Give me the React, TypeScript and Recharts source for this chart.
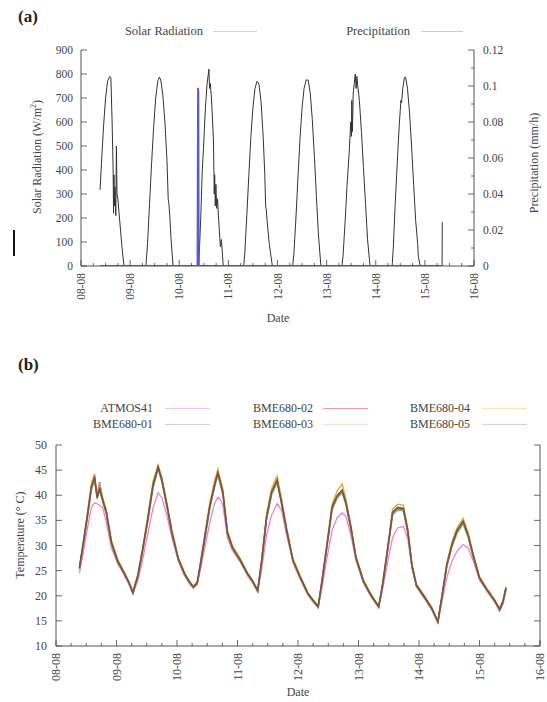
import React from "react";
import { LineChart, Line, XAxis, YAxis } from "recharts";

// ---- tick labels ----
const dateLabels = ["08-08", "09-08", "10-08", "11-08", "12-08", "13-08", "14-08", "15-08", "16-08"];
const hourTicks = [0, 6, 12, 18, 24, 30, 36, 42, 48, 54, 60, 66, 72, 78, 84, 90, 96, 102, 108, 114, 120, 126, 132, 138, 144, 150, 156, 162, 168, 174, 180, 186, 192];
const solarTicks = [0, 100, 200, 300, 400, 500, 600, 700, 800, 900];
const precipTicks = [0, 0.01, 0.02, 0.03, 0.04, 0.05, 0.06, 0.07, 0.08, 0.09, 0.1, 0.11, 0.12];
const tempTicks = [10, 15, 20, 25, 30, 35, 40, 45, 50];

// ---- (a) solar radiation, hours since 08-08 00:00 ----
const solarT = [
  9.3, 10, 11, 12, 13, 14, 14.6, 15.2, 15.7, 15.9, 16.1, 16.3, 16.6, 17, 17.3, 17.6, 18, 19, 20, 21,
  31.7, 32.5, 33.5, 34.5, 35.5, 36.5, 37.5, 38.3, 39, 40, 41, 42, 42.6, 42.9, 43.3, 44, 45,
  57.4, 57.8, 58.5, 59.2, 60, 60.8, 61.6, 62.2, 62.5, 62.8, 63.2, 63.7, 64.2, 64.7, 65.1, 65.3, 65.6, 65.9, 66.3, 66.7, 67.2, 68.1, 68.6, 69.5,
  79.5, 80, 81, 82, 83, 84, 85, 86, 86.5, 87, 88, 89, 89.8, 90.2, 90.5, 91, 92, 93.5,
  103.4, 104, 105, 106, 107, 108, 109, 110, 111, 112, 113, 114, 115, 116, 117.2,
  127.5, 128, 129, 130, 131, 131.8, 132.1, 132.3, 132.6, 133, 133.5, 134, 134.4, 134.8, 135.2, 136, 137, 138, 139, 140, 141.2,
  152, 152.6, 153.5, 154.5, 155.5, 156.3, 156.6, 157.2, 158, 158.6, 159.5, 160.5, 161.5, 162.5, 163.5, 164.5, 164.8, 165.7,
  176.4, 176.5,
];
const solarV = [
  317, 430, 580, 700, 770, 790, 785, 600, 400, 220, 380, 250, 330, 210, 500, 300, 280, 180, 80, 0,
  0, 90, 260, 430, 580, 700, 770, 787, 775, 710, 600, 440, 280, 262, 220, 110, 0,
  0, 54, 200, 387, 520, 662, 760, 800, 820, 740, 760, 700, 620, 525, 300, 380, 250, 340, 240, 280, 200, 80, 110, 0,
  0, 50, 210, 380, 540, 660, 740, 770, 765, 755, 680, 540, 380, 250, 235, 180, 90, 0,
  0, 50, 200, 370, 530, 660, 740, 775, 775, 720, 610, 460, 290, 130, 0,
  0, 40, 180, 340, 470, 600, 540, 690, 560, 720, 760, 800, 740, 790, 750, 690, 560, 410, 260, 110, 0,
  0, 80, 260, 430, 590, 690, 680, 740, 785, 787, 740, 640, 500, 340, 190, 90, 40, 0,
  0, 183,
];
const precipT = [9.3, 56.9, 57.0, 57.15, 57.35, 57.5, 57.6, 176.5];
const precipV = [0, 0, 0.04, 0.099, 0.097, 0.02, 0, 0];

// ---- (b) temperature, hours since 08-08 00:00 ----
const tempT = [
  9.3, 11, 12.5, 14, 15.3, 16.3, 17.3, 18.5, 20, 22, 24.5, 27, 29,
  30.5, 32.5, 34.5, 36.5, 38.5, 40.5, 42, 44, 46, 48.5, 51, 53,
  54.5, 56, 57, 59, 61, 63, 64.2, 65.2, 66.2, 68, 70, 73, 76, 78,
  80, 81.5, 83.5, 85.5, 87.7, 89.5, 91.5, 94, 97, 100, 102,
  104, 105.5, 107.5, 109.5, 111.5, 113.5, 115, 117, 119, 122, 125,
  128, 129.5, 131.5, 133.5, 135.5, 137.8, 139.5, 141.2, 143, 146, 149,
  151.5, 153, 155, 157, 159, 161.5, 163.5, 165.5, 168, 171, 174,
  176, 177.3, 178.5,
];
const atmos41 = [
  24.5, 29, 33.5, 37.5, 38.5, 38.3, 38, 37.5, 34.5, 29.5, 26.3, 24.2, 22.2,
  20.4, 23, 27.5, 32.5, 37.5, 40.5, 39.5, 36, 31.5, 27, 24, 22.4,
  21.5, 22.2, 24.5, 29.5, 34.5, 38.5, 39.6, 39.2, 38, 31.5, 29, 26.8, 24, 22.6,
  20.8, 25, 32, 36, 38.3, 37, 32, 26.7, 23.2, 20.1, 18.8,
  17.6, 21.5, 27.5, 33, 35.5, 36.5, 35.8, 32, 27, 22.5, 19.8,
  17.6, 21, 26.5, 31.5, 33.5, 33.8, 31.5, 25.5, 21.8, 19.6, 17.3,
  14.6, 18.5, 23.5, 26.8, 28.8, 30.2, 29.5, 27, 23.2, 20.9, 18.8,
  17, 18.3, 21,
];
const bme01 = [
  25.3, 30.8, 35.8, 41.2, 43.2, 39.8, 42.6, 39.2, 36.3, 30.3, 26.6, 24.4, 22.4,
  20.5, 23.8, 29.3, 35.2, 41.6, 45.3, 42.8, 37.8, 32.3, 27.2, 24.2, 22.5,
  21.6, 22.4, 25.1, 31.2, 37.5, 41.9, 44.1, 42.2, 40.3, 32.3, 29.4, 27, 24.2, 22.7,
  20.9, 26.2, 35.2, 40.2, 42.6, 38.3, 32.8, 26.9, 23.4, 20.2, 18.9,
  17.7, 22.6, 29.8, 37.2, 39.5, 40.7, 38.3, 33.3, 27.4, 22.7, 19.9,
  17.7, 21.8, 28.8, 36.2, 37.2, 37.1, 32.8, 25.9, 21.9, 19.7, 17.4,
  14.7, 19.3, 25.8, 29.8, 32.5, 34.5, 31.8, 27.8, 23.4, 21, 18.9,
  17.1, 18.6, 21.3,
];
const bme02 = [
  25.5, 31, 36, 41.5, 43.8, 39.5, 41.5, 39, 36.5, 30.5, 26.8, 24.5, 22.5,
  20.6, 24, 29.5, 35.5, 42, 45.7, 43, 38, 32.5, 27.3, 24.3, 22.6,
  21.7, 22.5, 25.3, 31.5, 37.8, 42.2, 44.5, 42.5, 40.5, 32.5, 29.5, 27.1, 24.3, 22.8,
  21, 26.5, 35.5, 40.5, 43, 38.5, 33, 27, 23.5, 20.3, 19,
  17.8, 22.8, 30, 37.5, 39.8, 41, 38.5, 33.5, 27.5, 22.8, 20,
  17.8, 22, 29, 36.5, 37.5, 37.3, 33, 26, 22, 19.8, 17.5,
  14.8, 19.5, 26, 30, 32.8, 34.8, 32, 28, 23.5, 21.1, 19,
  17.2, 18.8, 21.5,
];
const bme03 = [
  25.2, 30.6, 35.6, 41, 43, 39.2, 41, 38.7, 36.1, 30.2, 26.6, 24.3, 22.3,
  20.4, 23.7, 29.1, 35, 41.5, 45.2, 42.6, 37.6, 32.2, 27.1, 24.1, 22.4,
  21.5, 22.3, 25, 31, 37.3, 41.8, 44, 42, 40.1, 32.2, 29.3, 26.9, 24.1, 22.6,
  20.8, 26, 35, 40, 42.5, 38.1, 32.6, 26.8, 23.3, 20.1, 18.8,
  17.6, 22.5, 29.6, 37, 39.3, 40.5, 38.1, 33.1, 27.3, 22.6, 19.8,
  17.6, 21.7, 28.6, 36, 37, 36.9, 32.6, 25.8, 21.8, 19.6, 17.3,
  14.6, 19.2, 25.6, 29.6, 32.3, 34.3, 31.6, 27.7, 23.3, 20.9, 18.8,
  17, 18.5, 21.2,
];
const bme04 = [
  25.8, 31.4, 36.6, 42.2, 44.3, 40.2, 42, 39.6, 37, 31, 27.2, 24.8, 22.8,
  20.8, 24.4, 30, 36.2, 42.8, 46, 43.6, 38.5, 33, 27.7, 24.6, 22.9,
  21.9, 22.8, 25.8, 32.2, 38.5, 43, 45.2, 43.2, 41.2, 33, 30, 27.5, 24.6, 23.1,
  21.2, 27, 36.2, 41.3, 43.8, 39.2, 33.5, 27.4, 23.8, 20.6, 19.2,
  18, 23.2, 30.6, 38.2, 40.8, 42.3, 39.2, 34, 27.9, 23.1, 20.3,
  18, 22.4, 29.6, 37.2, 38.2, 38, 33.6, 26.4, 22.3, 20.1, 17.8,
  15, 19.9, 26.5, 30.6, 33.4, 35.4, 32.6, 28.4, 23.8, 21.4, 19.3,
  17.5, 19.1, 21.8,
];
const bme05 = [
  25.6, 31.1, 36.2, 41.6, 43.5, 39.6, 41.2, 39.1, 36.6, 30.6, 26.9, 24.6, 22.6,
  20.7, 24.1, 29.6, 35.6, 42.1, 45.6, 43.1, 38.1, 32.6, 27.4, 24.4, 22.7,
  21.8, 22.6, 25.4, 31.6, 37.9, 42.3, 44.5, 42.6, 40.6, 32.6, 29.6, 27.2, 24.4, 22.9,
  21.1, 26.6, 35.6, 40.6, 43, 38.6, 33.1, 27.1, 23.6, 20.4, 19.1,
  17.9, 22.9, 30.1, 37.6, 39.9, 41, 38.6, 33.6, 27.6, 22.9, 20.1,
  17.9, 22.1, 29.1, 36.6, 37.6, 37.4, 33.1, 26.1, 22.1, 19.9, 17.6,
  14.9, 19.6, 26.1, 30.1, 32.9, 34.8, 32.1, 28.1, 23.6, 21.2, 19.1,
  17.3, 18.9, 21.6,
];

const solarData = solarT.map((t, i) => ({ t, v: solarV[i] }));
const precipData = precipT.map((t, i) => ({ t, v: precipV[i] }));
const tempData = tempT.map((t, i) => ({
  t,
  atmos41: atmos41[i],
  bme01: bme01[i],
  bme02: bme02[i],
  bme03: bme03[i],
  bme04: bme04[i],
  bme05: bme05[i],
}));

const FONT = "'Liberation Serif', 'DejaVu Serif', serif";
const INK = "#444";

// ticks point inward, gnuplot style
function BottomTick(props: any) {
  const { x, y, payload, fs } = props;
  const major = payload.value % 24 === 0;
  const ly = y + 7;
  return (
    <g>
      <line x1={x} x2={x} y1={y} y2={y - (major ? 6 : 3)} stroke={INK} strokeWidth={0.8} />
      {major && (
        <text
          x={x}
          y={ly}
          transform={`rotate(-90 ${x} ${ly})`}
          textAnchor="end"
          dominantBaseline="central"
          fontSize={fs}
          fontFamily={FONT}
          fill={INK}
        >
          {dateLabels[payload.value / 24]}
        </text>
      )}
    </g>
  );
}

function TopTick(props: any) {
  const { x, y, payload } = props;
  const major = payload.value % 24 === 0;
  return <line x1={x} x2={x} y1={y} y2={y + (major ? 6 : 3)} stroke={INK} strokeWidth={0.8} />;
}

function LeftTick(props: any) {
  const { x, y, payload, fs, gap } = props;
  return (
    <g>
      <line x1={x} x2={x + 6} y1={y} y2={y} stroke={INK} strokeWidth={0.8} />
      <text x={x - gap} y={y} textAnchor="end" dominantBaseline="central" fontSize={fs} fontFamily={FONT} fill={INK}>
        {payload.value}
      </text>
    </g>
  );
}

function PrecipTick(props: any) {
  const { x, y, payload } = props;
  const major = Math.round(payload.value * 100) % 2 === 0;
  return (
    <g>
      <line x1={x} x2={x - (major ? 6 : 3)} y1={y} y2={y} stroke={INK} strokeWidth={0.8} />
      {major && (
        <text x={x + 9} y={y} textAnchor="start" dominantBaseline="central" fontSize={11.5} fontFamily={FONT} fill={INK}>
          {String(Number(payload.value.toFixed(2)))}
        </text>
      )}
    </g>
  );
}

function RightTick(props: any) {
  const { x, y } = props;
  return <line x1={x} x2={x - 6} y1={y} y2={y} stroke={INK} strokeWidth={0.8} />;
}

function Rotated({ x, y, size, children }: { x: number; y: number; size: number; children: React.ReactNode }) {
  return (
    <div
      style={{
        position: "absolute",
        left: x,
        top: y,
        transform: "translate(-50%, -50%) rotate(-90deg)",
        whiteSpace: "nowrap",
        fontSize: size,
        lineHeight: 1,
        color: INK,
      }}
    >
      {children}
    </div>
  );
}

function LegendItem({ right, y, label, x1, x2, color, size }: any) {
  return (
    <>
      <div
        style={{
          position: "absolute",
          right: 547 - right,
          top: y - size * 0.6,
          fontSize: size,
          lineHeight: 1.2,
          whiteSpace: "nowrap",
          color: INK,
        }}
      >
        {label}
      </div>
      <div style={{ position: "absolute", left: x1, width: x2 - x1, top: y, height: 1.2, background: color }} />
    </>
  );
}

const axisLine = { stroke: "#555", strokeWidth: 1 };

export default function App() {
  return (
    <div
      style={{
        position: "fixed",
        left: 0,
        top: 0,
        width: 547,
        height: 702,
        background: "#fff",
        fontFamily: FONT,
        overflow: "hidden",
      }}
    >
      {/* ---------- (a) ---------- */}
      <div style={{ position: "absolute", left: 18, top: 7, fontSize: 17, fontWeight: "bold", color: "#222" }}>(a)</div>
      <LegendItem right={203} y={31} label="Solar Radiation" x1={213} x2={257} color="#d4d4dc" size={12.5} />
      <LegendItem right={410} y={31} label="Precipitation" x1={422} x2={463} color="#c4c4ee" size={12.5} />

      <div style={{ position: "absolute", left: 0, top: 0 }}>
        <LineChart width={547} height={330} margin={{ top: 50, right: 0, bottom: 24, left: 0 }}>
          <XAxis
            xAxisId="b"
            type="number"
            dataKey="t"
            domain={[0, 192]}
            allowDataOverflow
            ticks={hourTicks}
            interval={0}
            tickSize={0}
            tickMargin={0}
            tickLine={false}
            axisLine={axisLine}
            height={40}
            tick={(p: any) => <BottomTick {...p} fs={11.5} />}
          />
          <XAxis
            xAxisId="top"
            orientation="top"
            type="number"
            dataKey="t"
            domain={[0, 192]}
            allowDataOverflow
            ticks={hourTicks}
            interval={0}
            tickSize={0}
            tickMargin={0}
            tickLine={false}
            axisLine={axisLine}
            height={0}
            tick={(p: any) => <TopTick {...p} />}
          />
          <YAxis
            yAxisId="l"
            type="number"
            domain={[0, 900]}
            allowDataOverflow
            ticks={solarTicks}
            interval={0}
            tickSize={0}
            tickMargin={0}
            tickLine={false}
            axisLine={axisLine}
            width={81}
            tick={(p: any) => <LeftTick {...p} fs={11.5} gap={8} />}
          />
          <YAxis
            yAxisId="r"
            orientation="right"
            type="number"
            domain={[0, 0.12]}
            allowDataOverflow
            ticks={precipTicks}
            interval={0}
            tickSize={0}
            tickMargin={0}
            tickLine={false}
            axisLine={axisLine}
            width={73}
            tick={(p: any) => <PrecipTick {...p} />}
          />
          <Line
            xAxisId="b"
            yAxisId="l"
            data={solarData}
            dataKey="v"
            type="linear"
            stroke="#333"
            strokeWidth={1}
            dot={false}
            isAnimationActive={false}
          />
          <Line
            xAxisId="b"
            yAxisId="r"
            data={precipData}
            dataKey="v"
            type="linear"
            stroke="#5a5ad0"
            strokeWidth={1.8}
            dot={false}
            isAnimationActive={false}
          />
        </LineChart>
      </div>

      <Rotated x={36} y={157} size={12}>
        Solar Radiation (W/m<span style={{ fontSize: 8, verticalAlign: "super" }}>2</span>)
      </Rotated>
      <Rotated x={534} y={163} size={12}>
        Precipitation (mm/h)
      </Rotated>
      <div style={{ position: "absolute", left: 278, top: 318, transform: "translate(-50%, -50%)", fontSize: 12, color: INK }}>
        Date
      </div>
      <div style={{ position: "absolute", left: 13, top: 230, width: 2, height: 26, background: "#111" }} />

      {/* ---------- (b) ---------- */}
      <div style={{ position: "absolute", left: 18, top: 355, fontSize: 17, fontWeight: "bold", color: "#222" }}>(b)</div>
      <LegendItem right={153} y={408} label="ATMOS41" x1={165} x2={210} color="#f6c0ee" size={12} />
      <LegendItem right={153} y={424} label="BME680-01" x1={165} x2={210} color="#ccccf4" size={12} />
      <LegendItem right={313} y={408} label="BME680-02" x1={323} x2={368} color="#f29aa6" size={12} />
      <LegendItem right={313} y={424} label="BME680-03" x1={323} x2={368} color="#d8f0d2" size={12} />
      <LegendItem right={470} y={408} label="BME680-04" x1={482} x2={527} color="#f4e4b0" size={12} />
      <LegendItem right={470} y={424} label="BME680-05" x1={482} x2={527} color="#e2ccd8" size={12} />

      <div style={{ position: "absolute", left: 0, top: 340 }}>
        <LineChart width={547} height={362} data={tempData} margin={{ top: 105, right: 0, bottom: 16, left: 0 }}>
          <XAxis
            xAxisId="b"
            type="number"
            dataKey="t"
            domain={[0, 192]}
            allowDataOverflow
            ticks={hourTicks}
            interval={0}
            tickSize={0}
            tickMargin={0}
            tickLine={false}
            axisLine={axisLine}
            height={40}
            tick={(p: any) => <BottomTick {...p} fs={12} />}
          />
          <XAxis
            xAxisId="top"
            orientation="top"
            type="number"
            dataKey="t"
            domain={[0, 192]}
            allowDataOverflow
            ticks={hourTicks}
            interval={0}
            tickSize={0}
            tickMargin={0}
            tickLine={false}
            axisLine={axisLine}
            height={0}
            tick={(p: any) => <TopTick {...p} />}
          />
          <YAxis
            yAxisId="l"
            type="number"
            domain={[10, 50]}
            allowDataOverflow
            ticks={tempTicks}
            interval={0}
            tickSize={0}
            tickMargin={0}
            tickLine={false}
            axisLine={axisLine}
            width={56}
            tick={(p: any) => <LeftTick {...p} fs={12} gap={9} />}
          />
          <YAxis
            yAxisId="r"
            orientation="right"
            type="number"
            domain={[10, 50]}
            allowDataOverflow
            ticks={tempTicks}
            interval={0}
            tickSize={0}
            tickMargin={0}
            tickLine={false}
            axisLine={axisLine}
            width={7}
            tick={(p: any) => <RightTick {...p} />}
          />
          <Line xAxisId="b" yAxisId="l" dataKey="atmos41" stroke="#e878d8" strokeWidth={1.2} dot={false} isAnimationActive={false} />
          <Line xAxisId="b" yAxisId="l" dataKey="bme01" stroke="#7070e0" strokeWidth={1.4} dot={false} isAnimationActive={false} />
          <Line xAxisId="b" yAxisId="l" dataKey="bme03" stroke="#80c078" strokeWidth={1.4} dot={false} isAnimationActive={false} />
          <Line xAxisId="b" yAxisId="l" dataKey="bme04" stroke="#e0a830" strokeWidth={1.4} dot={false} isAnimationActive={false} />
          <Line xAxisId="b" yAxisId="l" dataKey="bme02" stroke="#e03848" strokeWidth={1.4} dot={false} isAnimationActive={false} />
          <Line xAxisId="b" yAxisId="l" dataKey="bme05" stroke="#6b5a44" strokeWidth={1.4} dot={false} isAnimationActive={false} />
        </LineChart>
      </div>

      <Rotated x={20} y={535} size={12}>
        Temperature (° C)
      </Rotated>
      <div style={{ position: "absolute", left: 298, top: 692, transform: "translate(-50%, -50%)", fontSize: 12, color: INK }}>
        Date
      </div>
    </div>
  );
}
